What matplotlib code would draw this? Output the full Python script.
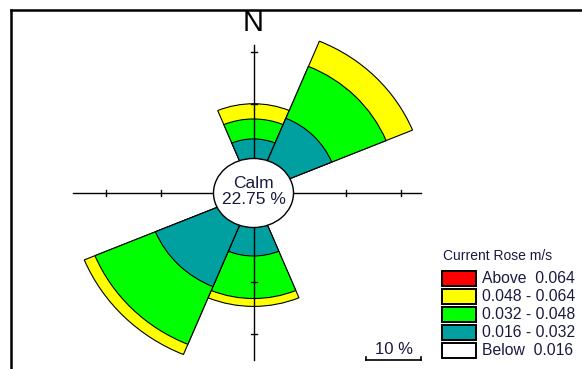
import matplotlib
matplotlib.use("Agg")
import matplotlib.pyplot as plt
from matplotlib.patches import Wedge, Ellipse, Rectangle

plt.rcParams["font.family"] = ["Liberation Sans", "DejaVu Sans"]

# rose data: frequency (%) per direction, one list per speed class (m/s)
directions = ["N", "NE", "E", "SE", "S", "SW", "W", "NW"]
bearings = [0, 45, 90, 135, 180, 225, 270, 315]
freq_below_016 = [0, 0, 0, 0, 0, 0, 0, 0]
freq_016_032 = [3.4, 8.5, 0, 0, 5.1, 12.4, 0, 0]
freq_032_048 = [3.8, 10.7, 0, 0, 8.1, 11.9, 0, 0]
freq_048_064 = [2.9, 5.2, 0, 0, 1.5, 2.1, 0, 0]
freq_above_064 = [0, 0, 0, 0, 0, 0, 0, 0]
calm_pct = 22.75

class_freqs = [freq_below_016, freq_016_032, freq_032_048, freq_048_064, freq_above_064]
class_colors = ["#ffffff", "#00a0a0", "#00ff00", "#ffff00", "#ff0000"]
legend_labels = ["Above  0.064", "0.048 - 0.064", "0.032 - 0.048", "0.016 - 0.032", "Below  0.016"]
legend_colors = ["#ff0000", "#ffff00", "#00ff00", "#00a0a0", "#ffffff"]

ring_pcts = [10, 20]
axis_arms = {"N": 21.3, "E": 23.6, "S": 24.9, "W": 25.9}

TXT = "#1a1a40"
CALM_R = 6.9        # radius of calm circle in % units
SX, SY = 5.5, 5.25  # px per % unit
CX, CY = 253.5, 193  # centre in px (from top-left)


def draw_rose(ax):
    half = 22.5
    for b, i in zip(bearings, range(len(directions))):
        cums = []
        total = 0
        for freqs in class_freqs:
            total += freqs[i]
            cums.append(total)
        # draw outermost first, inner classes painted on top
        for k in range(len(class_freqs) - 1, -1, -1):
            if class_freqs[k][i] <= 0:
                continue
            w = Wedge((0, 0), CALM_R + cums[k], 90 - b - half, 90 - b + half,
                      facecolor=class_colors[k], edgecolor="black", lw=0.8, zorder=2)
            ax.add_patch(w)

    # axes cross
    lk = dict(color="black", lw=1.0, zorder=3)
    ax.plot([0, 0], [-(CALM_R + axis_arms["S"]), CALM_R + axis_arms["N"]], **lk)
    ax.plot([-(CALM_R + axis_arms["W"]), CALM_R + axis_arms["E"]], [0, 0], **lk)
    tx, ty = 3 / SX, 3 / SY
    for r in ring_pcts:
        rr = CALM_R + r
        for s in (-1, 1):
            ax.plot([s * rr, s * rr], [-ty, ty], **lk)
            ax.plot([-tx, tx], [s * rr, s * rr], **lk)

    calm = Ellipse((0, 0), 2 * 40 / SX, 2 * 34.5 / SY, facecolor="white",
                   edgecolor="black", lw=1.0, zorder=4)
    ax.add_patch(calm)

    # scale bar 10 %
    x0, yb = 20.5, (CY - 360) / SY
    ax.plot([x0, x0 + 10], [yb, yb], color="black", lw=1.2, zorder=3)
    for x in (x0, x0 + 10):
        ax.plot([x, x], [yb, yb + 3 / SY], color="black", lw=1.2, zorder=3)


def main():
    fig = plt.figure(figsize=(5.82, 3.69), dpi=100)
    ax = fig.add_axes([0, 0, 1, 1])
    ax.set_xlim(-CX / SX, (582 - CX) / SX)
    ax.set_ylim(-(369 - CY) / SY, CY / SY)
    ax.axis("off")
    draw_rose(ax)

    # overlay in pixel coords for text / frame / legend
    ov = fig.add_axes([0, 0, 1, 1], facecolor="none")
    ov.set_xlim(0, 582)
    ov.set_ylim(369, 0)
    ov.axis("off")

    ov.plot([11, 582], [9.5, 9.5], color="black", lw=1.8)
    ov.plot([11, 11], [9.5, 369], color="black", lw=1.8)

    ov.text(253, 23, "N", ha="center", va="center", fontsize=21, color="black")
    ov.text(253.5, 183, "Calm", ha="center", va="center", fontsize=12.5, color=TXT, zorder=6)
    ov.text(253.5, 200, f"{calm_pct:.2f} %", ha="center", va="center", fontsize=12.5,
            color=TXT, zorder=6)
    ov.text(394, 349, "10 %", ha="center", va="center", fontsize=12, color=TXT)

    ov.text(443, 256.5, "Current Rose m/s", ha="left", va="center", fontsize=10, color=TXT)
    for j, (lab, col) in enumerate(zip(legend_labels, legend_colors)):
        top = 271 + j * 17.9
        ov.add_patch(Rectangle((442, top), 34, 15, facecolor=col, edgecolor="black", lw=1.4))
        ov.text(482, top + 7.8, lab, ha="left", va="center", fontsize=11.3, color=TXT)

    fig.savefig("out.png", dpi=100)


if __name__ == "__main__":
    main()
